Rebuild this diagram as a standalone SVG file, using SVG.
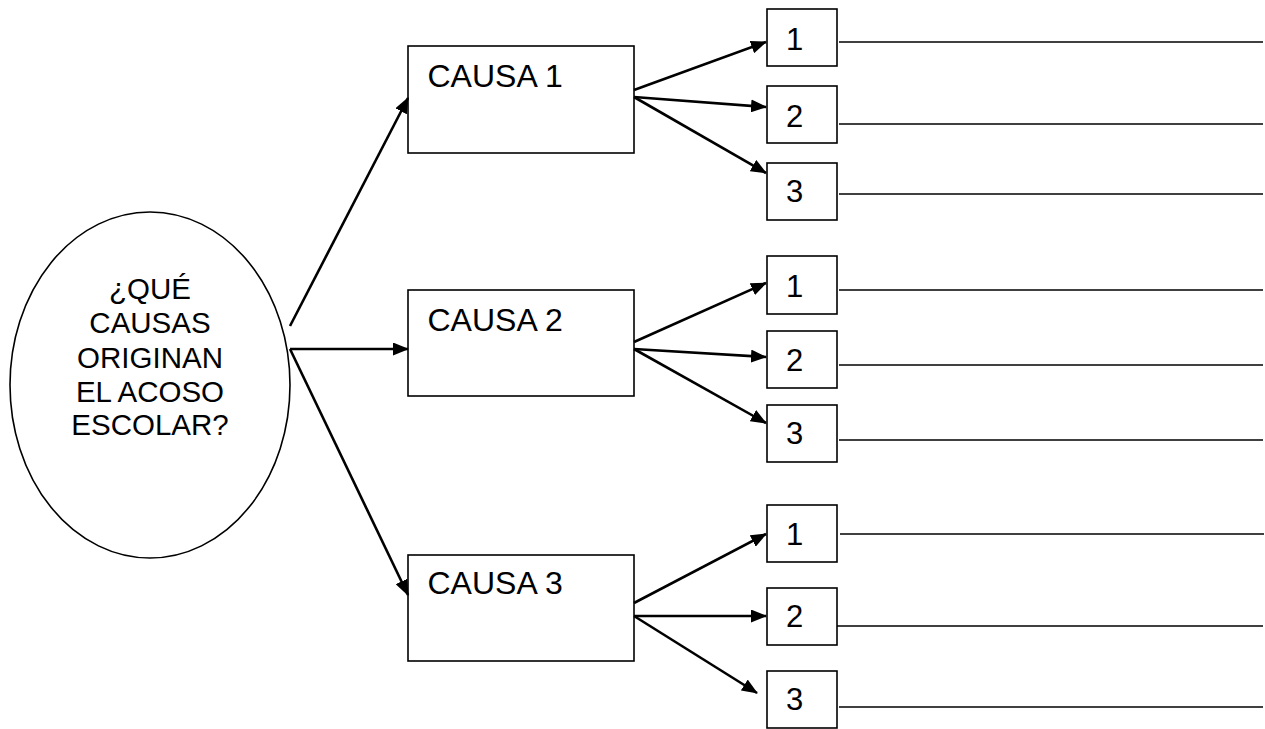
<svg xmlns="http://www.w3.org/2000/svg" width="1265" height="729" viewBox="0 0 1265 729">
<style>
  .box{fill:#fff;stroke:#000;stroke-width:1.6}
  .txt{font-family:"Liberation Sans",Arial,sans-serif;font-size:29.5px;fill:#000}
  .big{font-size:32px}
  .num{font-size:31px}
  .arr{stroke:#000;stroke-width:2.6;fill:none;marker-end:url(#ah)}
  .rl{stroke:#000;stroke-width:1.6}
</style>
<defs>
  <marker id="ah" viewBox="0 0 16 13" refX="15" refY="6.5" markerWidth="16" markerHeight="13" markerUnits="userSpaceOnUse" orient="auto">
    <path d="M0,0 L16,6.5 L0,13 Z" fill="#000"/>
  </marker>
</defs>
<rect width="1265" height="729" fill="#fff"/>
<g id="question">
  <ellipse class="box" cx="150" cy="385" rx="140" ry="173"/>
  <text class="txt" text-anchor="middle"><tspan x="150" y="299">¿QUÉ</tspan><tspan x="150" y="333">CAUSAS</tspan><tspan x="150" y="368">ORIGINAN</tspan><tspan x="150" y="402">EL ACOSO</tspan><tspan x="150" y="435">ESCOLAR?</tspan></text>
</g>
<g id="causa1">
  <rect class="box" x="408" y="46" width="226" height="107"/>
  <text class="txt big" x="427.5" y="87">CAUSA 1</text>
</g>
<g id="causa2">
  <rect class="box" x="408" y="290" width="226" height="106"/>
  <text class="txt big" x="427.5" y="331">CAUSA 2</text>
</g>
<g id="causa3">
  <rect class="box" x="408" y="555" width="226" height="106"/>
  <text class="txt big" x="427.5" y="594">CAUSA 3</text>
</g>
<g id="c1-1"><rect class="box" x="767" y="9" width="70" height="57"/><text class="txt num" x="786" y="50">1</text></g>
<g id="c1-2"><rect class="box" x="767" y="86" width="70" height="57"/><text class="txt num" x="786" y="127">2</text></g>
<g id="c1-3"><rect class="box" x="767" y="163" width="70" height="57"/><text class="txt num" x="786" y="202">3</text></g>
<g id="c2-1"><rect class="box" x="767" y="256" width="70" height="58"/><text class="txt num" x="786" y="297">1</text></g>
<g id="c2-2"><rect class="box" x="767" y="331" width="70" height="57"/><text class="txt num" x="786" y="371">2</text></g>
<g id="c2-3"><rect class="box" x="767" y="405" width="70" height="57"/><text class="txt num" x="786" y="444">3</text></g>
<g id="c3-1"><rect class="box" x="767" y="505" width="70" height="57"/><text class="txt num" x="786" y="545">1</text></g>
<g id="c3-2"><rect class="box" x="767" y="588" width="70" height="57"/><text class="txt num" x="786" y="627">2</text></g>
<g id="c3-3"><rect class="box" x="767" y="671" width="70" height="57"/><text class="txt num" x="786" y="710">3</text></g>
<g id="connectors">
  <line class="arr" x1="290" y1="326" x2="408" y2="98"/>
  <line class="arr" x1="290" y1="349" x2="408" y2="349"/>
  <line class="arr" x1="290" y1="349" x2="408" y2="595"/>
  <line class="arr" x1="634" y1="90" x2="766" y2="42"/>
  <line class="arr" x1="634" y1="97" x2="766" y2="107"/>
  <line class="arr" x1="634" y1="97" x2="766" y2="173"/>
  <line class="arr" x1="634" y1="342" x2="766" y2="283"/>
  <line class="arr" x1="634" y1="349" x2="766" y2="357"/>
  <line class="arr" x1="634" y1="349" x2="766" y2="423"/>
  <line class="arr" x1="634" y1="603" x2="766" y2="534"/>
  <line class="arr" x1="634" y1="616" x2="766" y2="616"/>
  <line class="arr" x1="634" y1="616" x2="757" y2="693"/>
  <line class="rl" x1="839" y1="42" x2="1263" y2="42"/>
  <line class="rl" x1="839" y1="124" x2="1263" y2="124"/>
  <line class="rl" x1="839" y1="194" x2="1263" y2="194"/>
  <line class="rl" x1="839" y1="290" x2="1263" y2="290"/>
  <line class="rl" x1="839" y1="365" x2="1263" y2="365"/>
  <line class="rl" x1="839" y1="440" x2="1263" y2="440"/>
  <line class="rl" x1="840" y1="534" x2="1264" y2="534"/>
  <line class="rl" x1="837" y1="626" x2="1263" y2="626"/>
  <line class="rl" x1="839" y1="707" x2="1263" y2="707"/>
</g>
</svg>
